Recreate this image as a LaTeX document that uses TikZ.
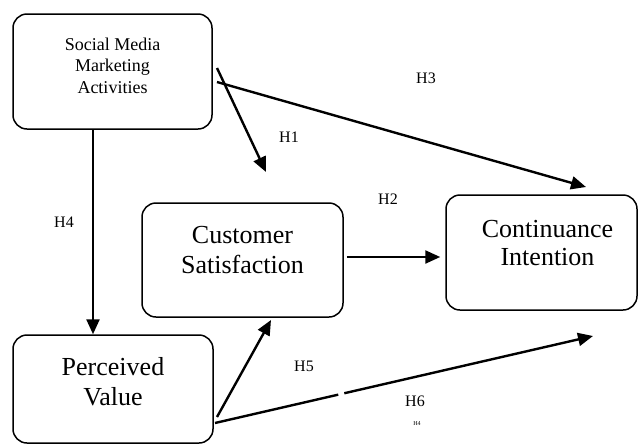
\documentclass[tikz,border=0pt]{standalone}
\usepackage{fontspec}
\setmainfont{Liberation Serif}
\usetikzlibrary{arrows.meta,calc}

\tikzset{
	construct/.style={draw, line width=1.5pt, rounded corners=14pt},
	constext/.style={font=\fontsize{26}{30}\selectfont, align=center},
	hyp/.style={font=\fontsize{16}{16}\selectfont},
	link/.style={line width=2.4pt, -{Triangle[length=15pt,width=13pt]}},
}

\begin{document}
\begin{tikzpicture}[x=1pt,y=-1pt]
	\useasboundingbox (0,0) rectangle (640,445);
	%\draw[help lines] (0,0) grid[step=20] (640,445);
	% constructs
	\node[construct, minimum width=199pt, minimum height=115pt,
		label={[yshift=6pt, align=center, font=\fontsize{18}{21.5}\selectfont]center:Social Media\\Marketing\\Activities}]
		(smma) at (112.5,71.5) {};
	\node[construct, minimum width=201pt, minimum height=114pt,
		label={[yshift=10pt, constext]center:Customer\\Satisfaction}]
		(cs) at (242.5,260) {};
	\node[construct, minimum width=191pt, minimum height=115pt,
		label={[yshift=9pt, xshift=6pt, constext, font=\fontsize{26}{28}\selectfont]center:Continuance\\Intention}]
		(ci) at (541.5,252.5) {};
	\node[construct, minimum width=200pt, minimum height=108pt,
		label={[yshift=7pt, constext]center:Perceived\\Value}]
		(pv) at (113,389) {};

	% free ends of the paths
	\coordinate (h1s) at (217,68);
	\coordinate (h1t) at (266,172);
	\coordinate (h3s) at (217,82);
	\coordinate (h3t) at (586,187);
	\coordinate (h5s) at (217,417);
	\coordinate (h5t) at (271,320);
	\coordinate (h6s) at (215,423);
	\coordinate (h6t) at (593,336);

	% hypotheses
	\draw[link] (smma.south -| 93,0) -- (pv.north -| 93,0);
	\draw[link] (h1s) -- (h1t);
	\draw[link] (h3s) -- (h3t);
	\draw[link] ([xshift=3pt]cs.east |- 0,257) -- ([xshift=-5pt]ci.west |- 0,257);
	\draw[link] (h5s) -- (h5t);
	\draw[line width=2.4pt] (h6s) -- ($(h6s)!0.326!(h6t)$);
	\draw[link] ($(h6s)!0.342!(h6t)$) -- (h6t);

	\node[hyp] (lh1) at (289,137) {H1};
	\node[hyp] (lh2) at (388,199) {H2};
	\node[hyp] (lh3) at (426,78) {H3};
	\node[hyp] (lh4) at (64,222) {H4};
	\node[hyp] (lh5) at (304,366) {H5};
	\node[hyp] (lh6) at (415,401) {H6};
	\node[font=\fontsize{6}{6}\selectfont] (lh4b) at (417,424) {H4};
\end{tikzpicture}
\end{document}
